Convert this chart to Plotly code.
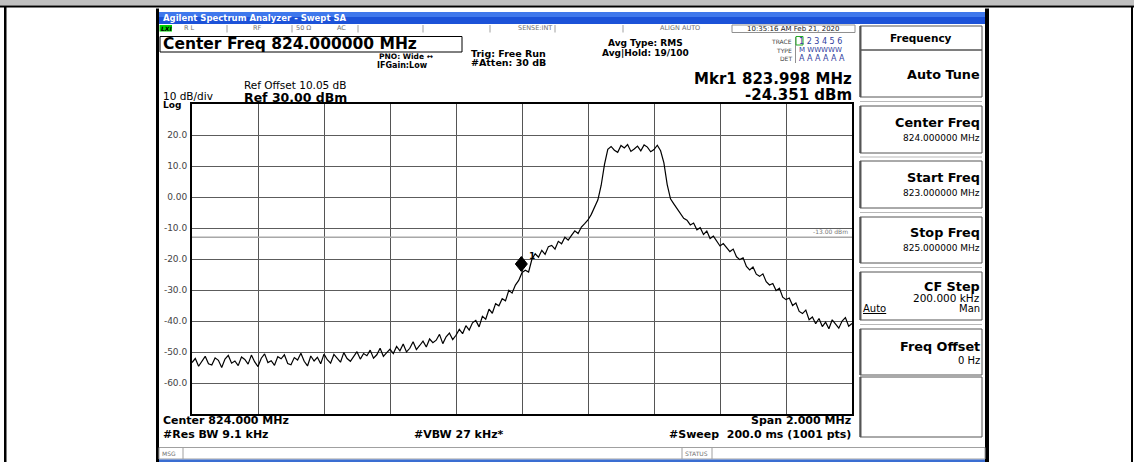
import numpy as np
import plotly.graph_objects as go

# ---------------- data ----------------
start_freq = 823.0
stop_freq = 825.0
ref_level = 30.0
bottom_level = -70.0

level_dbm = [
    -53.4, -52.1, -54.6, -53.0, -51.4, -53.8, -54.2, -51.9, -52.7, -55.0, -52.3, -51.1, -53.6, -52.9, -54.4, -51.6, -52.4, -53.9, -51.0, -53.2, -54.7,
    -52.0, -50.6, -53.4, -52.8, -54.3, -51.5, -52.2, -50.9, -53.7, -54.1, -51.8, -52.6, -50.4, -53.0, -54.5, -51.3, -52.9, -51.7, -53.8, -50.7,
    -52.5, -53.6, -50.8, -51.9, -53.3, -50.2, -52.1, -53.0, -51.4, -49.9,
    -52.3, -50.5, -51.2, -49.4, -52.0, -50.9, -48.8, -51.4, -50.2, -49.1,
    -50.5, -48.2, -49.6, -47.4, -50.0, -48.8, -46.7, -49.2, -47.9, -46.5,
    -48.4, -45.8, -47.0, -46.2, -44.3, -47.3, -45.1, -43.9, -46.0, -44.6,
    -42.7, -44.1, -41.5, -42.9, -40.6, -39.8, -41.9,
    -38.5, -39.4, -36.2, -37.5, -34.4, -35.1,
    -32.8, -33.5, -30.1, -31.0, -28.4, -26.9,
    -24.4,
    -23.6, -24.2, -20.1, -18.3, -19.4,
    -17.2, -18.5, -16.0, -15.6, -16.8, -14.3, -15.1, -13.0, -13.9, -12.4, -10.9, -11.8, -9.7, -8.6, -7.4,
    -5.6, -3.1, -0.9, 3.8, 10.5, 15.4,
    16.3, 15.1, 14.4, 16.6, 15.8, 16.9, 14.7, 15.5, 16.4, 14.9, 16.8, 16.1, 14.6, 15.3, 16.7, 14.9,
    11.0, 4.0, -0.6, -2.2, -3.9, -5.6, -6.9, -7.5,
    -9.0, -8.4, -10.6, -9.9, -12.1, -11.0, -13.4, -12.6, -14.1, -15.8,
    -15.0, -16.5, -17.6, -16.8, -19.3, -20.2, -19.6, -22.4, -23.5, -22.6,
    -24.9, -25.6, -24.8, -27.3, -28.4, -27.9, -30.2, -29.4, -32.3, -33.1,
    -32.6, -35.0, -34.2, -36.9, -37.6, -36.5, -39.6, -38.7,
    -40.9, -39.2, -41.8, -40.4, -42.5, -39.6, -41.1, -42.3, -40.0, -38.9, -41.7, -40.8,
]
freq_mhz = np.linspace(start_freq, stop_freq, len(level_dbm))

grid_freqs = [823.2, 823.4, 823.6, 823.8, 824.0, 824.2, 824.4, 824.6, 824.8]
y_ticks = [20, 10, 0, -10, -20, -30, -40, -50, -60]
y_tick_text = ["20.0", "10.0", "0.00", "-10.0", "-20.0", "-30.0", "-40.0", "-50.0", "-60.0"]
limit_line = -13.0
mkr_freq = 823.998
mkr_level = -24.351

# ---------------- layout helpers ----------------
W, H = 1134, 462
FONT = "DejaVu Sans"


def X(px):
    return px / W


def Y(py):
    return 1 - py / H


shapes = []
annotations = []


def rect(x0, y0, x1, y1, fill=None, line=None, lw=1):
    shapes.append(dict(
        type="rect", xref="paper", yref="paper",
        x0=X(x0), x1=X(x1), y0=Y(y1), y1=Y(y0),
        fillcolor=fill if fill else "rgba(0,0,0,0)",
        line=dict(color=line if line else "rgba(0,0,0,0)", width=lw if line else 0),
        layer="above"))


def hline(x0, x1, y, color, lw=1):
    shapes.append(dict(type="line", xref="paper", yref="paper",
                       x0=X(x0), x1=X(x1), y0=Y(y), y1=Y(y),
                       line=dict(color=color, width=lw), layer="above"))


def vline(x, y0, y1, color, lw=1):
    shapes.append(dict(type="line", xref="paper", yref="paper",
                       x0=X(x), x1=X(x), y0=Y(y0), y1=Y(y1),
                       line=dict(color=color, width=lw), layer="above"))


def txt(s, x, y, size, anchor="left", color="black", bold=False):
    if bold:
        s = "<b>" + s + "</b>"
    annotations.append(dict(
        text=s, xref="paper", yref="paper", x=X(x), y=Y(y),
        xanchor=anchor, yanchor="middle", showarrow=False, borderpad=0,
        font=dict(family=FONT, size=size, color=color)))


# ---- outer frame ----
rect(0, 0, W, 5.5, fill="#c0c0c0")
rect(0, 5.5, W, 7.5, fill="black")
rect(4, 7, 6.5, H, fill="black")
rect(1131, 7, 1133, H, fill="black")

# ---- instrument screen borders ----
rect(156, 8.5, 159, H, fill="black")
rect(985, 8.5, 989, H, fill="black")

# title bar
rect(159, 12, 985, 17, fill="#3f78ec")
rect(159, 17, 985, 24, fill="#1c52d8")
txt("Agilent Spectrum Analyzer - Swept SA", 162, 18, 8.5, color="white", bold=True)

# status row
rect(159.5, 25, 172, 31.5, fill="#00d000")
txt("<i>LXI</i>", 160, 28.3, 6, bold=True)
txt("R L", 183, 28.5, 6.5, color="#707070")
for sx in [227, 292, 358, 423, 490, 555, 623]:
    vline(sx, 25, 32.5, "#a0a0a0")
txt("RF", 257, 28.5, 6.5, anchor="center", color="#707070")
txt("50 Ω", 303, 28.5, 6.5, anchor="center", color="#707070")
txt("AC", 341, 28.5, 6.5, anchor="center", color="#707070")
txt("SENSE:INT", 553, 28.5, 6.5, anchor="right", color="#707070")
txt("ALIGN AUTO", 680, 28.5, 6.5, anchor="center", color="#707070")
rect(732, 25, 855, 32.5, line="#909090")
txt("10:35:16 AM Feb 21, 2020", 793, 28.7, 7, anchor="center", color="#222222")

# center freq box
rect(160, 36.5, 462, 52, line="black", lw=1)
txt("Center Freq 824.000000 MHz", 161.5, 44.3, 15.5, bold=True)

txt("PNO: Wide ↔", 378, 57, 7.5, bold=True)
txt("IFGain:Low", 376, 65.5, 8, bold=True)
txt("Trig: Free Run", 470, 53, 9.5, bold=True)
txt("#Atten: 30 dB", 470, 62.5, 9.5, bold=True)
txt("Avg Type: RMS", 645, 43, 9, anchor="center", bold=True)
txt("Avg|Hold: 19/100", 645, 52.5, 9, anchor="center", bold=True)

# trace info block
txt("TRACE", 793, 41, 6, anchor="right", color="#444444")
txt("TYPE", 793, 50, 6, anchor="right", color="#444444")
txt("DET", 793, 59, 6, anchor="right", color="#444444")
vline(795.5, 37, 63, "#909090")
rect(796, 36.5, 803, 45, line="#22aa22")
txt("1 2 3 4 5 6", 797.5, 41, 8, color="#3040a0")
txt("M WWWWW", 797.5, 50, 7, color="#3040a0")
txt("A A A A A A", 797.5, 59, 8, color="#3040a0")

# marker readout
txt("Mkr1 823.998 MHz", 853, 79.5, 15, anchor="right", bold=True)
txt("-24.351 dBm", 853, 95, 15, anchor="right", bold=True)

# reference info
txt("Ref Offset 10.05 dB", 243, 84.5, 10.5)
txt("Ref 30.00 dBm", 243, 97.5, 12.5, bold=True)
txt("10 dB/div", 162, 95.5, 10.5)
txt("Log", 162, 105.5, 9, bold=True)

# bottom annotations
txt("Center 824.000 MHz", 162, 420, 11, bold=True)
txt("Span 2.000 MHz", 852, 420, 11, anchor="right", bold=True)
txt("#Res BW 9.1 kHz", 162, 434, 11, bold=True)
txt("#VBW 27 kHz*", 459, 434, 11, anchor="center", bold=True)
txt("#Sweep  200.0 ms (1001 pts)", 852, 434, 11, anchor="right", bold=True)

# message bar
rect(159, 447.5, 985, 459, line="#a0a0a0")
vline(183, 447.5, 459, "#a0a0a0")
vline(682, 447.5, 459, "#a0a0a0")
vline(712, 447.5, 459, "#a0a0a0")
txt("MSG", 161, 453.5, 6, color="#707070")
txt("STATUS", 684, 453.5, 6, color="#707070")
rect(159, 459.5, 985, H, fill="#3a6ed2")

# soft key panel
keys = [
    (26, 50), (50, 97), (106, 153), (161, 208), (217, 263), (272, 320), (329, 375), (377, 437)
]
for (k0, k1) in keys:
    rect(860, k0, 982, k1, line="#555555", lw=1)
    vline(860.5, k0, k1, "#555555", lw=2)
for gy in [101.5, 157, 212.5, 267.5, 324.5]:
    hline(860, 982, gy, "#b8b8b8")

txt("Frequency", 921, 37.5, 10.5, anchor="center", bold=True)
txt("Auto Tune", 981, 74, 12.8, anchor="right", bold=True)
txt("Center Freq", 981, 123, 12.8, anchor="right", bold=True)
txt("824.000000 MHz", 981, 138, 9, anchor="right")
txt("Start Freq", 981, 178, 12.8, anchor="right", bold=True)
txt("823.000000 MHz", 981, 193, 9, anchor="right")
txt("Stop Freq", 981, 233, 12.8, anchor="right", bold=True)
txt("825.000000 MHz", 981, 248, 9, anchor="right")
txt("CF Step", 981, 286, 12.8, anchor="right", bold=True)
txt("200.000 kHz", 981, 297.5, 10.5, anchor="right")
txt("<u>Auto</u>", 862, 308.5, 10)
txt("Man", 981, 308.5, 10, anchor="right")
txt("Freq Offset", 981, 346, 12.8, anchor="right", bold=True)
txt("0 Hz", 981, 360, 10, anchor="right")

# ---- data-space items ----
shapes.append(dict(type="line", xref="x", yref="y", x0=start_freq, x1=stop_freq,
                   y0=limit_line, y1=limit_line,
                   line=dict(color="#a8a8a8", width=1.5), layer="between"))
annotations.append(dict(text="-13.00 dBm", xref="x", yref="y", x=stop_freq, y=limit_line,
                        xanchor="right", yanchor="bottom", xshift=-2, yshift=0,
                        showarrow=False, font=dict(family=FONT, size=6, color="#777777")))

# marker diamond (drawn just above the marked point)
shapes.append(dict(type="path", xref="x", yref="y", xsizemode="pixel", ysizemode="pixel",
                   xanchor=mkr_freq, yanchor=mkr_level,
                   path="M 0 1 L 6 8.5 L 0 16 L -6 8.5 Z",
                   fillcolor="black", line=dict(color="black", width=1), layer="above"))
annotations.append(dict(text="<b>1</b>", xref="x", yref="y", x=mkr_freq, y=mkr_level,
                        xanchor="center", yanchor="middle", xshift=11, yshift=16,
                        showarrow=False, font=dict(family=FONT, size=9, color="black")))

fig = go.Figure()
fig.add_trace(go.Scatter(x=freq_mhz, y=level_dbm, mode="lines",
                         line=dict(color="black", width=1.2), hoverinfo="skip",
                         showlegend=False))

fig.update_layout(
    width=W, height=H,
    margin=dict(l=0, r=0, t=0, b=0),
    paper_bgcolor="white", plot_bgcolor="white",
    showlegend=False,
    shapes=shapes,
    annotations=annotations,
    xaxis=dict(domain=[X(192), X(852)], range=[start_freq, stop_freq],
               tickvals=grid_freqs, showticklabels=False, ticks="",
               showgrid=True, gridcolor="#555555", gridwidth=1,
               showline=True, mirror=True, linecolor="black", linewidth=2,
               zeroline=False, fixedrange=True),
    yaxis=dict(domain=[Y(414), Y(104)], range=[bottom_level, ref_level],
               tickvals=y_ticks, ticktext=y_tick_text, ticks="",
               tickfont=dict(family=FONT, size=9, color="#444444"),
               ticklabelstandoff=1,
               showgrid=True, gridcolor="#5c5c5c", gridwidth=1,
               showline=True, mirror=True, linecolor="black", linewidth=2,
               zeroline=False, fixedrange=True),
)

fig.write_html(
    "out.html",
    config={"displayModeBar": False},
    post_script="document.body.style.margin='0px';document.body.style.overflow='hidden';",
)
